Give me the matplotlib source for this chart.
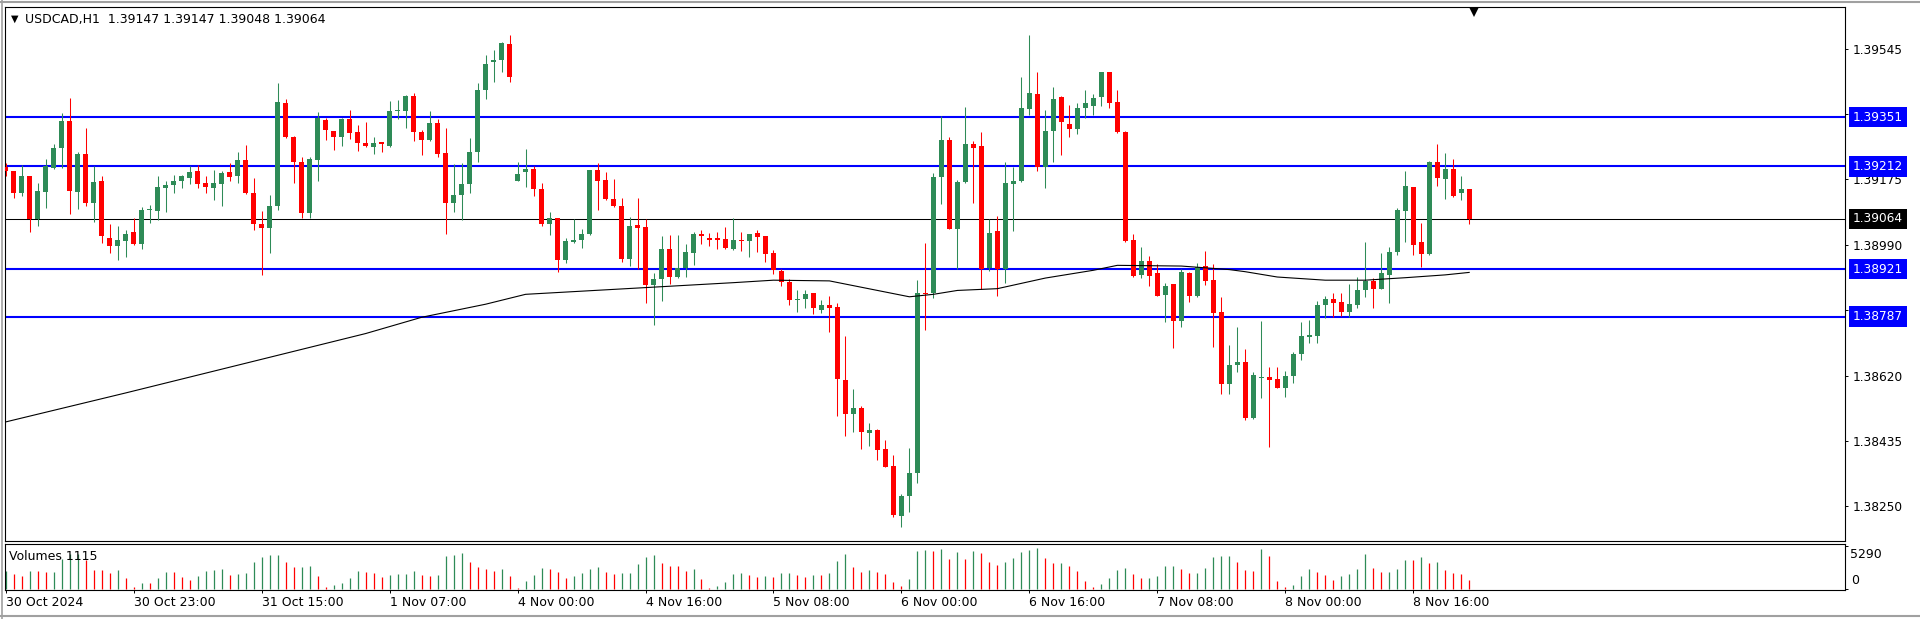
"""
plot.py
=======
MT4-style H1 candlestick chart of USDCAD with horizontal levels,
a long moving average and the Volumes sub-window.
Saves out.png (1920x619).
"""

import matplotlib

matplotlib.use("Agg")
import matplotlib.pyplot as plt
from matplotlib.lines import Line2D
import numpy as np


W, H, DPI = 1920, 619, 100

SYMBOL = "USDCAD,H1"

# ---- candles (one per hour, 30 Oct 07:00 .. 8 Nov 22:00) -------------------
opens = [
    1.39210, 1.39198, 1.39136, 1.39184, 1.39064, 1.39139, 1.39207, 1.39263, 1.39340, 1.39139,
    1.39246, 1.39108, 1.39170, 1.39010, 1.38988, 1.39002, 1.39025, 1.38992, 1.39088, 1.39085,
    1.39152, 1.39158, 1.39170, 1.39180, 1.39198, 1.39164, 1.39151, 1.39162, 1.39195, 1.39185,
    1.39229, 1.39136, 1.39050, 1.39039, 1.39100, 1.39392, 1.39295, 1.39225, 1.39079, 1.39229,
    1.39343, 1.39312, 1.39294, 1.39347, 1.39308, 1.39279, 1.39266, 1.39281, 1.39271, 1.39369,
    1.39370, 1.39412, 1.39308, 1.39286, 1.39336, 1.39250, 1.39107, 1.39131, 1.39162, 1.39253,
    1.39428, 1.39506, 1.39514, 1.39559, 1.39172, 1.39195, 1.39205, 1.39148, 1.39050, 1.39066,
    1.38946, 1.38998, 1.39003, 1.39020, 1.39201, 1.39174, 1.39120, 1.39101, 1.38951, 1.39047,
    1.39041, 1.38877, 1.38893, 1.38978, 1.38900, 1.38924, 1.38968, 1.39021, 1.39010, 1.39008,
    1.39006, 1.38979, 1.39005, 1.39001, 1.39023, 1.39014, 1.38967, 1.38917, 1.38885, 1.38833,
    1.38836, 1.38853, 1.38807, 1.38820, 1.38814, 1.38607, 1.38512, 1.38529, 1.38458, 1.38467,
    1.38411, 1.38365, 1.38223, 1.38280, 1.38343, 1.38855, 1.38855, 1.39183, 1.39288, 1.39036,
    1.39167, 1.39275, 1.39270, 1.38925, 1.39029, 1.38921, 1.39161, 1.39172, 1.39375, 1.39418,
    1.39209, 1.39312, 1.39408, 1.39333, 1.39317, 1.39378, 1.39382, 1.39408, 1.39478, 1.39395,
    1.39310, 1.39004, 1.38905, 1.38945, 1.38909, 1.38849, 1.38878, 1.38775, 1.38911, 1.38844,
    1.38929, 1.38891, 1.38800, 1.38597, 1.38649, 1.38659, 1.38500, 1.38612, 1.38615, 1.38610,
    1.38585, 1.38619, 1.38680, 1.38729, 1.38733, 1.38820, 1.38836, 1.38827, 1.38801, 1.38821,
    1.38861, 1.38888, 1.38866, 1.38906, 1.38971, 1.39087, 1.39154, 1.38998, 1.38964, 1.39225,
    1.39175, 1.39204, 1.39136, 1.39147,
]
highs = [
    1.39222, 1.39200, 1.39215, 1.39186, 1.39164, 1.39232, 1.39274, 1.39362, 1.39405, 1.39252,
    1.39320, 1.39212, 1.39186, 1.39050, 1.39042, 1.39031, 1.39065, 1.39096, 1.39102, 1.39185,
    1.39172, 1.39188, 1.39189, 1.39212, 1.39215, 1.39184, 1.39201, 1.39198, 1.39221, 1.39252,
    1.39272, 1.39180, 1.39086, 1.39132, 1.39449, 1.39404, 1.39297, 1.39239, 1.39239, 1.39367,
    1.39350, 1.39313, 1.39348, 1.39372, 1.39330, 1.39338, 1.39294, 1.39282, 1.39398, 1.39401,
    1.39413, 1.39420, 1.39316, 1.39370, 1.39346, 1.39322, 1.39220, 1.39222, 1.39291, 1.39447,
    1.39526, 1.39542, 1.39563, 1.39585, 1.39223, 1.39261, 1.39212, 1.39165, 1.39084, 1.39067,
    1.39008, 1.39063, 1.39036, 1.39203, 1.39221, 1.39195, 1.39175, 1.39123, 1.39068, 1.39123,
    1.39063, 1.38909, 1.39015, 1.39018, 1.39018, 1.38992, 1.39027, 1.39031, 1.39023, 1.39025,
    1.39040, 1.39066, 1.39025, 1.39021, 1.39032, 1.39015, 1.38975, 1.38921, 1.38894, 1.38863,
    1.38861, 1.38854, 1.38834, 1.38846, 1.38825, 1.38732, 1.38583, 1.38535, 1.38486, 1.38470,
    1.38439, 1.38396, 1.38286, 1.38414, 1.38891, 1.38995, 1.39193, 1.39355, 1.39294, 1.39174,
    1.39380, 1.39285, 1.39308, 1.39063, 1.39072, 1.39225, 1.39211, 1.39464, 1.39583, 1.39478,
    1.39372, 1.39437, 1.39411, 1.39387, 1.39390, 1.39427, 1.39418, 1.39480, 1.39480, 1.39427,
    1.39311, 1.39020, 1.38984, 1.38959, 1.38935, 1.38883, 1.38879, 1.38921, 1.38913, 1.38940,
    1.38973, 1.38935, 1.38843, 1.38707, 1.38757, 1.38694, 1.38631, 1.38774, 1.38644, 1.38644,
    1.38633, 1.38688, 1.38771, 1.38777, 1.38831, 1.38845, 1.38853, 1.38853, 1.38880, 1.38900,
    1.38998, 1.38897, 1.38967, 1.38985, 1.39093, 1.39198, 1.39155, 1.39051, 1.39227, 1.39275,
    1.39250, 1.39233, 1.39186, 1.39147,
]
lows = [
    1.39185, 1.39122, 1.39128, 1.39026, 1.39043, 1.39094, 1.39205, 1.39207, 1.39077, 1.39092,
    1.39100, 1.39056, 1.38996, 1.38967, 1.38946, 1.38957, 1.38990, 1.38977, 1.39051, 1.39060,
    1.39083, 1.39136, 1.39150, 1.39162, 1.39150, 1.39136, 1.39116, 1.39099, 1.39171, 1.39165,
    1.39134, 1.39031, 1.38904, 1.38968, 1.39088, 1.39293, 1.39165, 1.39067, 1.39067, 1.39170,
    1.39288, 1.39259, 1.39269, 1.39289, 1.39255, 1.39266, 1.39246, 1.39254, 1.39266, 1.39345,
    1.39320, 1.39285, 1.39243, 1.39285, 1.39238, 1.39022, 1.39082, 1.39061, 1.39138, 1.39225,
    1.39403, 1.39450, 1.39479, 1.39452, 1.39170, 1.39155, 1.39127, 1.39043, 1.39019, 1.38912,
    1.38940, 1.38995, 1.38980, 1.39018, 1.39088, 1.39118, 1.39098, 1.38942, 1.38929, 1.38921,
    1.38825, 1.38762, 1.38832, 1.38880, 1.38896, 1.38900, 1.38933, 1.38991, 1.38987, 1.38978,
    1.38978, 1.38976, 1.38972, 1.38957, 1.38969, 1.38942, 1.38907, 1.38873, 1.38819, 1.38800,
    1.38810, 1.38795, 1.38797, 1.38744, 1.38507, 1.38450, 1.38461, 1.38411, 1.38422, 1.38382,
    1.38360, 1.38220, 1.38191, 1.38234, 1.38316, 1.38748, 1.38841, 1.39105, 1.39035, 1.38923,
    1.39165, 1.39107, 1.38864, 1.38916, 1.38844, 1.38881, 1.39029, 1.39167, 1.39358, 1.39199,
    1.39150, 1.39223, 1.39244, 1.39296, 1.39304, 1.39350, 1.39358, 1.39384, 1.39378, 1.39307,
    1.38997, 1.38900, 1.38897, 1.38874, 1.38844, 1.38773, 1.38699, 1.38758, 1.38828, 1.38843,
    1.38876, 1.38702, 1.38567, 1.38569, 1.38631, 1.38495, 1.38498, 1.38557, 1.38418, 1.38584,
    1.38560, 1.38598, 1.38663, 1.38711, 1.38711, 1.38782, 1.38787, 1.38789, 1.38787, 1.38810,
    1.38843, 1.38812, 1.38865, 1.38825, 1.38962, 1.38998, 1.38962, 1.38926, 1.38962, 1.39157,
    1.39119, 1.39124, 1.39116, 1.39048,
]
closes = [
    1.39198, 1.39136, 1.39184, 1.39064, 1.39141, 1.39212, 1.39263, 1.39340, 1.39142, 1.39246,
    1.39108, 1.39167, 1.39015, 1.38986, 1.39005, 1.39022, 1.38992, 1.39090, 1.39092, 1.39153,
    1.39158, 1.39171, 1.39184, 1.39195, 1.39161, 1.39153, 1.39164, 1.39193, 1.39182, 1.39229,
    1.39136, 1.39048, 1.39039, 1.39100, 1.39394, 1.39295, 1.39223, 1.39079, 1.39233, 1.39349,
    1.39314, 1.39294, 1.39347, 1.39306, 1.39279, 1.39269, 1.39279, 1.39276, 1.39370, 1.39371,
    1.39412, 1.39308, 1.39286, 1.39336, 1.39246, 1.39107, 1.39131, 1.39162, 1.39253, 1.39428,
    1.39503, 1.39514, 1.39561, 1.39464, 1.39191, 1.39205, 1.39148, 1.39050, 1.39066, 1.38946,
    1.39001, 1.39003, 1.39020, 1.39201, 1.39172, 1.39120, 1.39099, 1.38951, 1.39044, 1.39039,
    1.38877, 1.38893, 1.38978, 1.38900, 1.38924, 1.38969, 1.39022, 1.39014, 1.39004, 1.39003,
    1.38982, 1.39003, 1.39001, 1.39020, 1.39011, 1.38963, 1.38919, 1.38884, 1.38833, 1.38836,
    1.38850, 1.38810, 1.38819, 1.38812, 1.38611, 1.38512, 1.38529, 1.38461, 1.38467, 1.38409,
    1.38361, 1.38226, 1.38280, 1.38343, 1.38853, 1.38850, 1.39183, 1.39288, 1.39036, 1.39169,
    1.39276, 1.39264, 1.38922, 1.39023, 1.38921, 1.39166, 1.39172, 1.39378, 1.39421, 1.39209,
    1.39312, 1.39404, 1.39337, 1.39317, 1.39378, 1.39390, 1.39405, 1.39478, 1.39391, 1.39308,
    1.39001, 1.38902, 1.38945, 1.38902, 1.38845, 1.38874, 1.38775, 1.38914, 1.38844, 1.38928,
    1.38888, 1.38798, 1.38597, 1.38649, 1.38659, 1.38499, 1.38621, 1.38615, 1.38608, 1.38585,
    1.38619, 1.38681, 1.38732, 1.38735, 1.38820, 1.38836, 1.38826, 1.38801, 1.38822, 1.38861,
    1.38888, 1.38866, 1.38910, 1.38971, 1.39089, 1.39157, 1.38990, 1.38964, 1.39225, 1.39178,
    1.39205, 1.39129, 1.39147, 1.39064,
]
volumes = [
    2200, 1880, 1640, 2280, 2270, 2080, 2100, 3720, 4320, 4340,
    3520, 2400, 2320, 1960, 2400, 1360, 280, 760, 740, 1320,
    2160, 2080, 1480, 1120, 1600, 2200, 2400, 2420, 1760, 1840,
    1960, 3280, 3880, 4160, 4200, 3280, 2720, 2740, 2800, 1600,
    320, 520, 760, 1320, 2200, 2080, 1960, 1480, 1760, 1800,
    1840, 2200, 1760, 1640, 1760, 4040, 4200, 4360, 3320, 2680,
    2440, 2250, 2440, 1640, 100, 1040, 1720, 2560, 2440, 2120,
    1360, 1600, 1960, 2440, 2680, 2080, 1880, 1920, 2000, 3040,
    3920, 4120, 3200, 2840, 2820, 2200, 2440, 1240, 120, 400,
    880, 1800, 1960, 1760, 1480, 1600, 1480, 1960, 1980, 1760,
    1520, 1720, 1680, 1960, 3400, 4240, 2680, 2080, 2320, 2080,
    1880, 880, 400, 1240, 4600, 4720, 4600, 4840, 3640, 4480,
    3640, 4600, 4360, 3280, 2960, 3280, 3760, 4480, 4720, 4960,
    3760, 3160, 3180, 2840, 2200, 1000, 280, 640, 1360, 2320,
    2560, 1840, 1360, 1380, 1600, 2800, 2820, 2440, 1960, 1980,
    2560, 3880, 4000, 4020, 3280, 2320, 2200, 4840, 4000, 1000,
    280, 520, 1600, 2440, 2080, 1720, 1120, 1600, 1840, 2440,
    4240, 2560, 2080, 2100, 2440, 3520, 3500, 3880, 3160, 3280,
    2320, 1960, 1840, 1115,
]

# ---- moving average, read at its bends ------------------------------------
ma_bars = [0, 15, 30, 45, 52, 60, 65, 91, 96, 103, 113, 116, 119, 124,
           130, 136, 139, 147, 153, 155, 159, 165, 170, 175, 180, 183]
ma_values = [1.38489, 1.38571, 1.38655, 1.38739, 1.38785, 1.38822, 1.38850,
             1.38883, 1.38890, 1.38888, 1.38843, 1.38850, 1.38861, 1.38866,
             1.38896, 1.38918, 1.38932, 1.38930, 1.38920, 1.38914, 1.38899,
             1.38890, 1.38890, 1.38897, 1.38905, 1.38912]

levels = [1.39351, 1.39212, 1.38921, 1.38787]
last_price = closes[-1]

price_ticks = [1.39545, 1.39360, 1.39175, 1.38990, 1.38805, 1.38620, 1.38435, 1.38250]
vol_ticks = [0, 5290]

x_label_bars = [0, 16, 32, 48, 64, 80, 96, 112, 128, 144, 160, 176]
x_labels = ["30 Oct 2024", "30 Oct 23:00", "31 Oct 15:00", "1 Nov 07:00",
            "4 Nov 00:00", "4 Nov 16:00", "5 Nov 08:00", "6 Nov 00:00",
            "6 Nov 16:00", "7 Nov 08:00", "8 Nov 00:00", "8 Nov 16:00"]

GREEN = "#2e8b57"
RED = "#ff0000"
BLUE = "#0000ff"
FS = 9


def px_axes(fig, left, top, right, bottom):
    """Add an axes given in pixel coordinates measured from the top-left."""
    return fig.add_axes([left / W, 1 - bottom / H, (right - left) / W, (bottom - top) / H])


def draw_candles(ax):
    o, h, l, c = map(np.asarray, (opens, highs, lows, closes))
    x = np.arange(len(o))
    colors = np.where(c >= o, GREEN, RED)
    ax.vlines(x, l, h, colors=colors, lw=0.75, zorder=3)
    body = np.maximum(np.abs(c - o), 0.000028)
    ax.bar(x, body, bottom=np.minimum(o, c), width=0.6, color=colors,
           lw=0, zorder=4)


def price_box(ax, value, fc):
    ax.annotate(f"{value:.5f}", xy=(1, value), xycoords=("axes fraction", "data"),
                xytext=(8, 0), textcoords="offset pixels", ha="left", va="center",
                color="white", fontsize=8.7, annotation_clip=False, zorder=10,
                bbox=dict(boxstyle="square,pad=0.3", fc=fc, ec="none"))


def main():
    fig = plt.figure(figsize=(W / DPI, H / DPI), dpi=DPI)
    n = len(closes)
    xlim = (-0.1, 230.0)

    # main price window
    ax = px_axes(fig, 5, 7, 1845, 541)
    ax.set_xlim(*xlim)
    ax.set_ylim(1.38152, 1.39663)
    for s in ax.spines.values():
        s.set_linewidth(0.8)
    draw_candles(ax)
    for lv in levels:
        ax.axhline(lv, color=BLUE, lw=1.5, zorder=2)
    ax.axhline(last_price, color="black", lw=0.75, zorder=2)
    ax.plot(ma_bars, ma_values, color="black", lw=0.8, zorder=5)

    ax.yaxis.tick_right()
    ax.set_yticks(price_ticks)
    ax.set_yticklabels([f"{t:.5f}" for t in price_ticks])
    ax.tick_params(axis="y", length=2.5, width=0.7, pad=3, labelsize=8.7)
    ax.set_xticks([])
    for lv in levels:
        price_box(ax, lv, BLUE)
    price_box(ax, last_price, "black")

    # chart-shift marker, just under the top edge
    ax.plot([n - 0.4], [0.991], marker="v", color="black", ms=7, mew=0,
            transform=ax.get_xaxis_transform(), clip_on=False, zorder=6)

    # volumes window
    axv = px_axes(fig, 5, 544, 1845, 590)
    axv.set_xlim(*xlim)
    axv.set_ylim(-84, 5496)
    for s in axv.spines.values():
        s.set_linewidth(0.8)
    v = np.asarray(volumes)
    vcol = [GREEN] + [GREEN if v[i] > v[i - 1] else RED for i in range(1, n)]
    axv.vlines(np.arange(n), 0, v, colors=vcol, lw=0.9)
    axv.yaxis.tick_right()
    axv.set_yticks(vol_ticks)
    axv.set_yticklabels([])
    axv.tick_params(axis="y", length=2.5, width=0.7)
    fig.text(1850 / W, 1 - 555 / H, str(vol_ticks[1]), fontsize=FS, va="center")
    fig.text(1851 / W, 1 - 580 / H, str(vol_ticks[0]), fontsize=FS, va="center")

    axv.set_xticks(x_label_bars)
    axv.set_xticklabels(x_labels, fontsize=FS)
    for lbl in axv.get_xticklabels():
        lbl.set_ha("left")
    axv.tick_params(axis="x", length=2.5, width=0.7, pad=2)

    # captions
    fig.text(11 / W, 1 - 19 / H, "\u25bc", fontsize=7, va="center")
    fig.text(25 / W, 1 - 19 / H,
             f"{SYMBOL}  {opens[-1]:.5f} {highs[-1]:.5f} {lows[-1]:.5f} {closes[-1]:.5f}",
             fontsize=FS, va="center")
    fig.text(9 / W, 1 - 556 / H, f"Volumes {volumes[-1]}", fontsize=FS, va="center")

    # window frame
    grey = "#a0a0a0"
    fig.add_artist(Line2D([0, 1], [1 - 2 / H, 1 - 2 / H], color=grey, lw=1.5))
    fig.add_artist(Line2D([0, 1], [1 - 616 / H, 1 - 616 / H], color=grey, lw=1.5))
    fig.add_artist(Line2D([2 / W, 2 / W], [0, 1], color=grey, lw=1.2))

    fig.savefig("out.png", dpi=DPI)
    plt.close(fig)


if __name__ == "__main__":
    main()
